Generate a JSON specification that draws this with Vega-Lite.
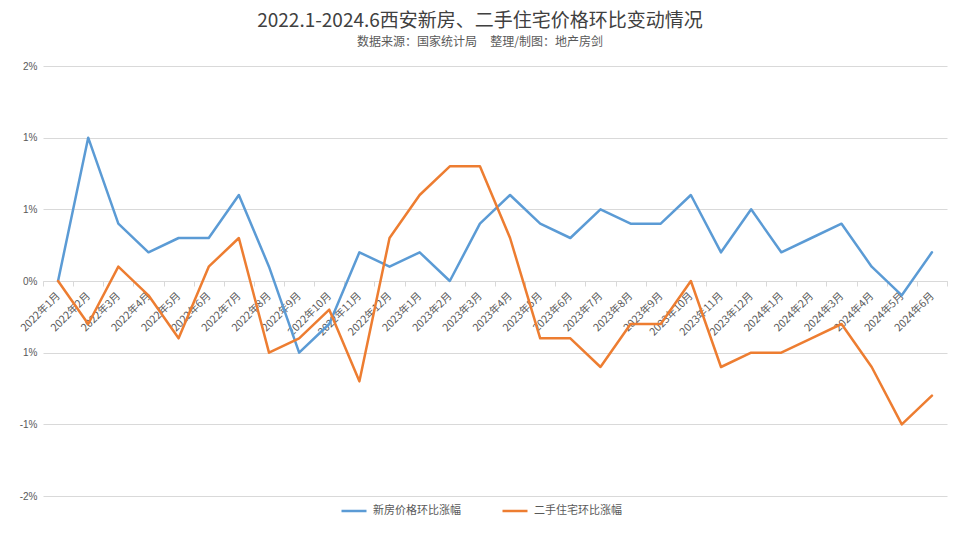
{
  "$schema": "https://vega.github.io/schema/vega-lite/v6.json",
  "width": 904,
  "height": 430,
  "autosize": {"type": "none"},
  "padding": {"left": 43, "top": 66, "right": 13, "bottom": 42},
  "background": "white",
  "config": {
    "view": {"stroke": null},
    "font": "Noto Sans CJK SC"
  },
  "title": {
    "text": "2022.1-2024.6西安新房、二手住宅价格环比变动情况",
    "subtitle": "数据来源：国家统计局\u00a0\u00a0\u00a0\u00a0\u00a0整理/制图：地产房剑",
    "anchor": "middle",
    "frame": "group",
    "dx": -15,
    "offset": 13,
    "font": "Noto Sans CJK SC",
    "fontSize": 19,
    "fontWeight": "normal",
    "color": "#404040",
    "subtitleFont": "Noto Sans CJK SC",
    "subtitleFontSize": 12,
    "subtitleColor": "#595959",
    "subtitlePadding": 6
  },
  "data": {
    "values": [
      {"month": "2022年1月", "series": "新房价格环比涨幅", "value": 0.0},
      {"month": "2022年2月", "series": "新房价格环比涨幅", "value": 1.0},
      {"month": "2022年3月", "series": "新房价格环比涨幅", "value": 0.4},
      {"month": "2022年4月", "series": "新房价格环比涨幅", "value": 0.2},
      {"month": "2022年5月", "series": "新房价格环比涨幅", "value": 0.3},
      {"month": "2022年6月", "series": "新房价格环比涨幅", "value": 0.3},
      {"month": "2022年7月", "series": "新房价格环比涨幅", "value": 0.6},
      {"month": "2022年8月", "series": "新房价格环比涨幅", "value": 0.1},
      {"month": "2022年9月", "series": "新房价格环比涨幅", "value": -0.5},
      {"month": "2022年10月", "series": "新房价格环比涨幅", "value": -0.3},
      {"month": "2022年11月", "series": "新房价格环比涨幅", "value": 0.2},
      {"month": "2022年12月", "series": "新房价格环比涨幅", "value": 0.1},
      {"month": "2023年1月", "series": "新房价格环比涨幅", "value": 0.2},
      {"month": "2023年2月", "series": "新房价格环比涨幅", "value": 0.0},
      {"month": "2023年3月", "series": "新房价格环比涨幅", "value": 0.4},
      {"month": "2023年4月", "series": "新房价格环比涨幅", "value": 0.6},
      {"month": "2023年5月", "series": "新房价格环比涨幅", "value": 0.4},
      {"month": "2023年6月", "series": "新房价格环比涨幅", "value": 0.3},
      {"month": "2023年7月", "series": "新房价格环比涨幅", "value": 0.5},
      {"month": "2023年8月", "series": "新房价格环比涨幅", "value": 0.4},
      {"month": "2023年9月", "series": "新房价格环比涨幅", "value": 0.4},
      {"month": "2023年10月", "series": "新房价格环比涨幅", "value": 0.6},
      {"month": "2023年11月", "series": "新房价格环比涨幅", "value": 0.2},
      {"month": "2023年12月", "series": "新房价格环比涨幅", "value": 0.5},
      {"month": "2024年1月", "series": "新房价格环比涨幅", "value": 0.2},
      {"month": "2024年2月", "series": "新房价格环比涨幅", "value": 0.3},
      {"month": "2024年3月", "series": "新房价格环比涨幅", "value": 0.4},
      {"month": "2024年4月", "series": "新房价格环比涨幅", "value": 0.1},
      {"month": "2024年5月", "series": "新房价格环比涨幅", "value": -0.1},
      {"month": "2024年6月", "series": "新房价格环比涨幅", "value": 0.2},
      {"month": "2022年1月", "series": "二手住宅环比涨幅", "value": 0.0},
      {"month": "2022年2月", "series": "二手住宅环比涨幅", "value": -0.3},
      {"month": "2022年3月", "series": "二手住宅环比涨幅", "value": 0.1},
      {"month": "2022年4月", "series": "二手住宅环比涨幅", "value": -0.1},
      {"month": "2022年5月", "series": "二手住宅环比涨幅", "value": -0.4},
      {"month": "2022年6月", "series": "二手住宅环比涨幅", "value": 0.1},
      {"month": "2022年7月", "series": "二手住宅环比涨幅", "value": 0.3},
      {"month": "2022年8月", "series": "二手住宅环比涨幅", "value": -0.5},
      {"month": "2022年9月", "series": "二手住宅环比涨幅", "value": -0.4},
      {"month": "2022年10月", "series": "二手住宅环比涨幅", "value": -0.2},
      {"month": "2022年11月", "series": "二手住宅环比涨幅", "value": -0.7},
      {"month": "2022年12月", "series": "二手住宅环比涨幅", "value": 0.3},
      {"month": "2023年1月", "series": "二手住宅环比涨幅", "value": 0.6},
      {"month": "2023年2月", "series": "二手住宅环比涨幅", "value": 0.8},
      {"month": "2023年3月", "series": "二手住宅环比涨幅", "value": 0.8},
      {"month": "2023年4月", "series": "二手住宅环比涨幅", "value": 0.3},
      {"month": "2023年5月", "series": "二手住宅环比涨幅", "value": -0.4},
      {"month": "2023年6月", "series": "二手住宅环比涨幅", "value": -0.4},
      {"month": "2023年7月", "series": "二手住宅环比涨幅", "value": -0.6},
      {"month": "2023年8月", "series": "二手住宅环比涨幅", "value": -0.3},
      {"month": "2023年9月", "series": "二手住宅环比涨幅", "value": -0.3},
      {"month": "2023年10月", "series": "二手住宅环比涨幅", "value": 0.0},
      {"month": "2023年11月", "series": "二手住宅环比涨幅", "value": -0.6},
      {"month": "2023年12月", "series": "二手住宅环比涨幅", "value": -0.5},
      {"month": "2024年1月", "series": "二手住宅环比涨幅", "value": -0.5},
      {"month": "2024年2月", "series": "二手住宅环比涨幅", "value": -0.4},
      {"month": "2024年3月", "series": "二手住宅环比涨幅", "value": -0.3},
      {"month": "2024年4月", "series": "二手住宅环比涨幅", "value": -0.6},
      {"month": "2024年5月", "series": "二手住宅环比涨幅", "value": -1.0},
      {"month": "2024年6月", "series": "二手住宅环比涨幅", "value": -0.8}
    ]
  },
  "mark": {"type": "line", "strokeWidth": 2.5, "strokeJoin": "round", "strokeCap": "round"},
  "encoding": {
    "x": {
      "field": "month",
      "type": "ordinal",
      "sort": null,
      "scale": {"type": "band", "paddingInner": 0, "paddingOuter": 0},
      "axis": {
        "title": null,
        "offset": -215,
        "tickBand": "extent",
        "labelAngle": -45,
        "labelAlign": "right",
        "labelBaseline": "middle",
        "labelFontSize": 10.5,
        "labelColor": "#595959",
        "labelPadding": 8,
        "labelFont": "Noto Sans CJK SC",
        "domainColor": "#d9d9d9",
        "domainWidth": 1,
        "tickColor": "#d9d9d9",
        "tickSize": 5,
        "grid": false
      }
    },
    "y": {
      "field": "value",
      "type": "quantitative",
      "scale": {"domain": [-1.5, 1.5], "nice": false, "zero": false},
      "axis": {
        "title": null,
        "values": [-1.5, -1, -0.5, 0, 0.5, 1, 1.5],
        "labelExpr": "datum.value == 0 ? '0%' : datum.value == 1.5 ? '2%' : datum.value == -1.5 ? '-2%' : datum.value == -1 ? '-1%' : '1%'",
        "domain": false,
        "ticks": false,
        "grid": true,
        "gridColor": "#d9d9d9",
        "gridWidth": 1,
        "labelFontSize": 10,
        "labelColor": "#595959",
        "labelPadding": 6,
        "labelFont": "Liberation Sans"
      }
    },
    "color": {
      "field": "series",
      "type": "nominal",
      "scale": {"domain": ["新房价格环比涨幅", "二手住宅环比涨幅"], "range": ["#5B9BD5", "#ED7D31"]},
      "legend": {
        "title": null,
        "orient": "none",
        "direction": "horizontal",
        "legendX": 297,
        "legendY": 431,
        "symbolType": "stroke",
        "symbolStrokeWidth": 2.5,
        "symbolSize": 625,
        "labelFontSize": 11,
        "labelColor": "#595959",
        "labelOffset": 5,
        "columnPadding": 36,
        "labelFont": "Noto Sans CJK SC"
      }
    }
  }
}
